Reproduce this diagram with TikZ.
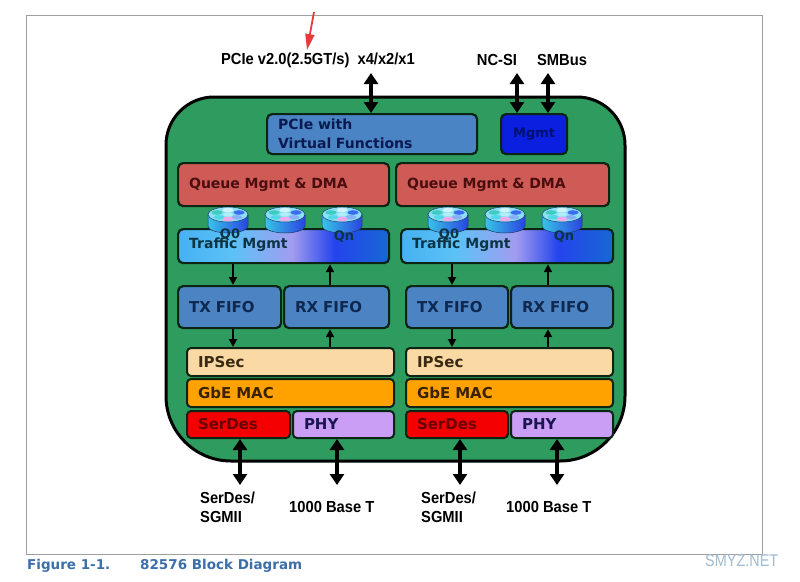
\documentclass[tikz,border=0pt]{standalone}
\usepackage{fontspec}
\setmainfont{DejaVu Sans}
\newfontfamily\boxfont{DejaVu Sans}
\newfontfamily\lblfont[FakeStretch=0.92]{Liberation Sans}
\newfontfamily\wmfont[FakeStretch=0.85]{Liberation Sans}
\usetikzlibrary{arrows.meta}
\definecolor{chipgreen}{HTML}{2E9C5E}
\definecolor{bordc}{HTML}{0C2414}
\definecolor{pcieblue}{HTML}{4A84C4}
\definecolor{pcietext}{HTML}{0A1A50}
\definecolor{mgmtblue}{HTML}{0A1FE0}
\definecolor{mgmttext}{HTML}{001070}
\definecolor{queuered}{HTML}{CF5B57}
\definecolor{queuetext}{HTML}{4A0E0E}
\definecolor{fifoblue}{HTML}{4C83C2}
\definecolor{fifotext}{HTML}{0E2850}
\definecolor{ipsecc}{HTML}{FBD9A5}
\definecolor{ipsectext}{HTML}{3A2A14}
\definecolor{macc}{HTML}{FFA200}
\definecolor{mactext}{HTML}{3A2200}
\definecolor{serdesc}{HTML}{F40000}
\definecolor{serdestext}{HTML}{6A0000}
\definecolor{phyc}{HTML}{C99EF4}
\definecolor{phytext}{HTML}{1A1450}
\definecolor{traftext}{HTML}{0C3444}
\definecolor{tA}{HTML}{46B0F2}
\definecolor{tB}{HTML}{5CC2F6}
\definecolor{tC}{HTML}{A29CF0}
\definecolor{tD}{HTML}{2444EC}
\definecolor{tE}{HTML}{1868D4}
\definecolor{cylA}{HTML}{38C4E6}
\definecolor{cylB}{HTML}{AEB4F2}
\definecolor{cylC}{HTML}{2A44E2}
\definecolor{cyltopc}{HTML}{8CE0F4}
\definecolor{cylline}{HTML}{1A3A6A}
\definecolor{dotT}{HTML}{D0F4FF}
\definecolor{dotL}{HTML}{3CCCC0}
\definecolor{dotR}{HTML}{3A6CF0}
\definecolor{dotLL}{HTML}{50D8E8}
\definecolor{dotLR}{HTML}{88B0F8}
\definecolor{dotB}{HTML}{F0A8E8}
\definecolor{dotC}{HTML}{B0EEF8}
\definecolor{capc}{HTML}{3C6FA8}
\definecolor{wmc}{HTML}{9FBCD0}
\definecolor{redarr}{HTML}{E83A3A}
\pgfdeclarehorizontalshading{traffic}{100bp}{color(0bp)=(tA); color(25bp)=(tA); color(38bp)=(tB); color(52bp)=(tC); color(62bp)=(tD); color(75bp)=(tE); color(100bp)=(tE)}
\newcommand\blk[7]{%
  \pgfmathsetmacro\bw{#4-#2}\pgfmathsetmacro\bh{#5-#3}\pgfmathsetmacro\tw{#4-#2-22}%
  \node[box,minimum width=\bw pt,minimum height=\bh pt,text width=\tw pt,#6] (#1) at (#2,#3) {#7};}
\newcommand\queue[3]{%
  \begin{scope}[shift={(#2,#3)}]
    \coordinate (#1) at (0,13);
    \path[draw=cylline,line width=0.5pt,left color=cylA,middle color=cylB,right color=cylC]
      (-20,7.5) -- (-20,19) arc[start angle=180,end angle=0,x radius=20,y radius=7] -- (20,7.5) -- cycle;
    \path[draw=cylline,line width=0.5pt,fill=cyltopc] (0,7.5) ellipse[x radius=20,y radius=7.5];
    \fill[dotT] (0,3) ellipse[x radius=5.5,y radius=2.3];
    \fill[dotL] (-11,5.5) ellipse[x radius=5.5,y radius=2.3];
    \fill[dotR] (11,5.5) ellipse[x radius=5.5,y radius=2.3];
    \fill[dotLL] (-9,10.3) ellipse[x radius=5.5,y radius=2.3];
    \fill[dotLR] (9,10.3) ellipse[x radius=5.5,y radius=2.3];
    \fill[dotB] (0,12) ellipse[x radius=5.5,y radius=2.3];
    \fill[dotC] (0,7.5) ellipse[x radius=5,y radius=2];
  \end{scope}}
\begin{document}
\begin{tikzpicture}[x=1pt,y=-1pt,
  box/.style={draw=bordc,line width=2.2pt,rounded corners=5pt,anchor=north west,
    inner xsep=11pt,inner ysep=1pt,align=left,font=\boxfont\bfseries\fontsize{15}{19}\selectfont},
  lbl/.style={inner sep=0pt,font=\lblfont\bfseries\fontsize{16}{19}\selectfont},
  captxt/.style={inner sep=0pt,text=capc,font=\boxfont\bfseries\fontsize{13.5}{16}\selectfont},
  bigarr/.style={line width=4pt,{Triangle[width=14pt,length=11pt]}-{Triangle[width=14pt,length=11pt]}},
  smallarr/.style={line width=2pt,-{Triangle[width=8pt,length=8pt]}},
  qlbl/.style={inner sep=0pt,text=traftext,font=\boxfont\bfseries\fontsize{13}{13}\selectfont}]
\useasboundingbox (0,0) rectangle (800,581);
\fill[white] (0,0) rectangle (800,581);
\draw[gray!75,line width=1pt] (26,15) rectangle (762,554);
% red annotation arrow
\coordinate (ra1) at (314,12);
\coordinate (ra2) at (307,50);
\draw[draw=redarr,line width=1.8pt,-{Triangle[width=9pt,length=16pt]},color=redarr] (ra1) -- (ra2);
% chip outline (top corners less round than bottom ones)
\draw[draw=black,line width=3pt,fill=chipgreen]
  (166,145) -- (166,396) arc[start angle=180,end angle=90,radius=65]
  -- (560,461) arc[start angle=90,end angle=0,radius=65]
  -- (625,145) arc[start angle=0,end angle=-90,radius=48]
  -- (214,97) arc[start angle=-90,end angle=-180,radius=48] -- cycle;
\node[inner sep=0pt,anchor=north west,minimum width=459pt,minimum height=364pt] (chip) at (166,97) {};
% top blocks
\blk{pcie}{266}{113}{476}{153}{fill=pcieblue,text=pcietext,font=\boxfont\bfseries\fontsize{14}{19}\selectfont}{PCIe with\\Virtual Functions}
\blk{mgmt}{500}{113}{566}{153}{fill=mgmtblue,text=mgmttext,align=center,inner xsep=2pt,text width=60pt,font=\boxfont\bfseries\fontsize{13}{15}\selectfont}{Mgmt}
% queue mgmt
\blk{qL}{177}{162}{388}{205}{fill=queuered,text=queuetext,font=\boxfont\bfseries\fontsize{14}{19}\selectfont}{Queue Mgmt \& DMA}
\blk{qR}{395}{162}{608}{205}{fill=queuered,text=queuetext,font=\boxfont\bfseries\fontsize{14}{19}\selectfont}{Queue Mgmt \& DMA}
% traffic mgmt
\blk{trL}{177}{228}{388}{262}{shade,shading=traffic}{}
\blk{trR}{400}{228}{612}{262}{shade,shading=traffic}{}
\queue{qa}{228}{207}
\queue{qb}{285}{207}
\queue{qc}{342}{207}
\queue{qd}{448}{207}
\queue{qe}{505}{207}
\queue{qf}{562}{207}
\node[qlbl,anchor=west,font=\boxfont\bfseries\fontsize{14}{14}\selectfont] (tmL) at (189,245) {Traffic Mgmt};
\node[qlbl,anchor=west,font=\boxfont\bfseries\fontsize{14}{14}\selectfont] (tmR) at (412,245) {Traffic Mgmt};
\node[qlbl] (q0L) at (230,235) {Q0};
\node[qlbl] (qnL) at (344,237) {Qn};
\node[qlbl] (q0R) at (449,235) {Q0};
\node[qlbl] (qnR) at (564,237) {Qn};
% FIFOs
\blk{txL}{177}{285}{280}{327}{fill=fifoblue,text=fifotext}{TX FIFO}
\blk{rxL}{283}{285}{388}{327}{fill=fifoblue,text=fifotext}{RX FIFO}
\blk{txR}{405}{285}{507}{327}{fill=fifoblue,text=fifotext}{TX FIFO}
\blk{rxR}{510}{285}{612}{327}{fill=fifoblue,text=fifotext}{RX FIFO}
% MAC stack
\blk{ipL}{186}{347}{393}{375}{fill=ipsecc,text=ipsectext,rounded corners=4pt,line width=2pt}{IPSec}
\blk{ipR}{405}{347}{612}{375}{fill=ipsecc,text=ipsectext,rounded corners=4pt,line width=2pt}{IPSec}
\blk{macL}{186}{378}{393}{406}{fill=macc,text=mactext,rounded corners=4pt,line width=2pt}{GbE MAC}
\blk{macR}{405}{378}{612}{406}{fill=macc,text=mactext,rounded corners=4pt,line width=2pt}{GbE MAC}
\blk{sdL}{186}{410}{289}{437}{fill=serdesc,text=serdestext,rounded corners=4pt,line width=2pt}{SerDes}
\blk{phL}{292}{410}{393}{437}{fill=phyc,text=phytext,rounded corners=4pt,line width=2pt}{PHY}
\blk{sdR}{405}{410}{507}{437}{fill=serdesc,text=serdestext,rounded corners=4pt,line width=2pt}{SerDes}
\blk{phR}{510}{410}{612}{437}{fill=phyc,text=phytext,rounded corners=4pt,line width=2pt}{PHY}
% small arrows
\draw[smallarr] (233,0 |- trL.south) -- (233,0 |- txL.north);
\draw[smallarr] (330,0 |- rxL.north) -- (330,0 |- trL.south);
\draw[smallarr] (452,0 |- trR.south) -- (452,0 |- txR.north);
\draw[smallarr] (548,0 |- rxR.north) -- (548,0 |- trR.south);
\draw[smallarr] (233,0 |- txL.south) -- (233,0 |- ipL.north);
\draw[smallarr] (330,0 |- ipL.north) -- (330,0 |- rxL.south);
\draw[smallarr] (452,0 |- txR.south) -- (452,0 |- ipR.north);
\draw[smallarr] (548,0 |- ipR.north) -- (548,0 |- rxR.south);
% external labels
\node[lbl] (pcielbl) at (318,60) {PCIe v2.0(2.5GT/s)\hspace{0.5em}x4/x2/x1};
\node[lbl] (ncsi) at (497,60) {NC-SI};
\node[lbl] (smbus) at (562,60) {SMBus};
\coordinate (pcieT) at (371,73);
\coordinate (ncsiT) at (517,73);
\coordinate (smbT) at (548,73);
\draw[bigarr] (pcieT) -- (pcieT |- pcie.north);
\draw[bigarr] (ncsiT) -- (ncsiT |- mgmt.north);
\draw[bigarr] (smbT) -- (smbT |- mgmt.north);
\coordinate (b1) at (240,485);
\coordinate (b2) at (337,485);
\coordinate (b3) at (460,485);
\coordinate (b4) at (557,485);
\draw[bigarr] (b1 |- sdL.south) -- (b1);
\draw[bigarr] (b2 |- phL.south) -- (b2);
\draw[bigarr] (b3 |- sdR.south) -- (b3);
\draw[bigarr] (b4 |- phR.south) -- (b4);
\node[lbl,align=left,anchor=west] (sgL) at (200,507) {SerDes/\\SGMII};
\node[lbl,anchor=west] (btL) at (289,507) {1000 Base T};
\node[lbl,align=left,anchor=west] (sgR) at (421,507) {SerDes/\\SGMII};
\node[lbl,anchor=west] (btR) at (506,507) {1000 Base T};
% caption
\node[captxt,anchor=west] (fig) at (27,566) {Figure 1-1.};
\node[captxt,anchor=west] (figt) at (140,566) {82576 Block Diagram};
\node[inner sep=0pt,anchor=west,text=wmc,font=\wmfont\fontsize{17}{17}\selectfont] (wm) at (705,561) {SMYZ.NET};
\end{tikzpicture}
\end{document}
